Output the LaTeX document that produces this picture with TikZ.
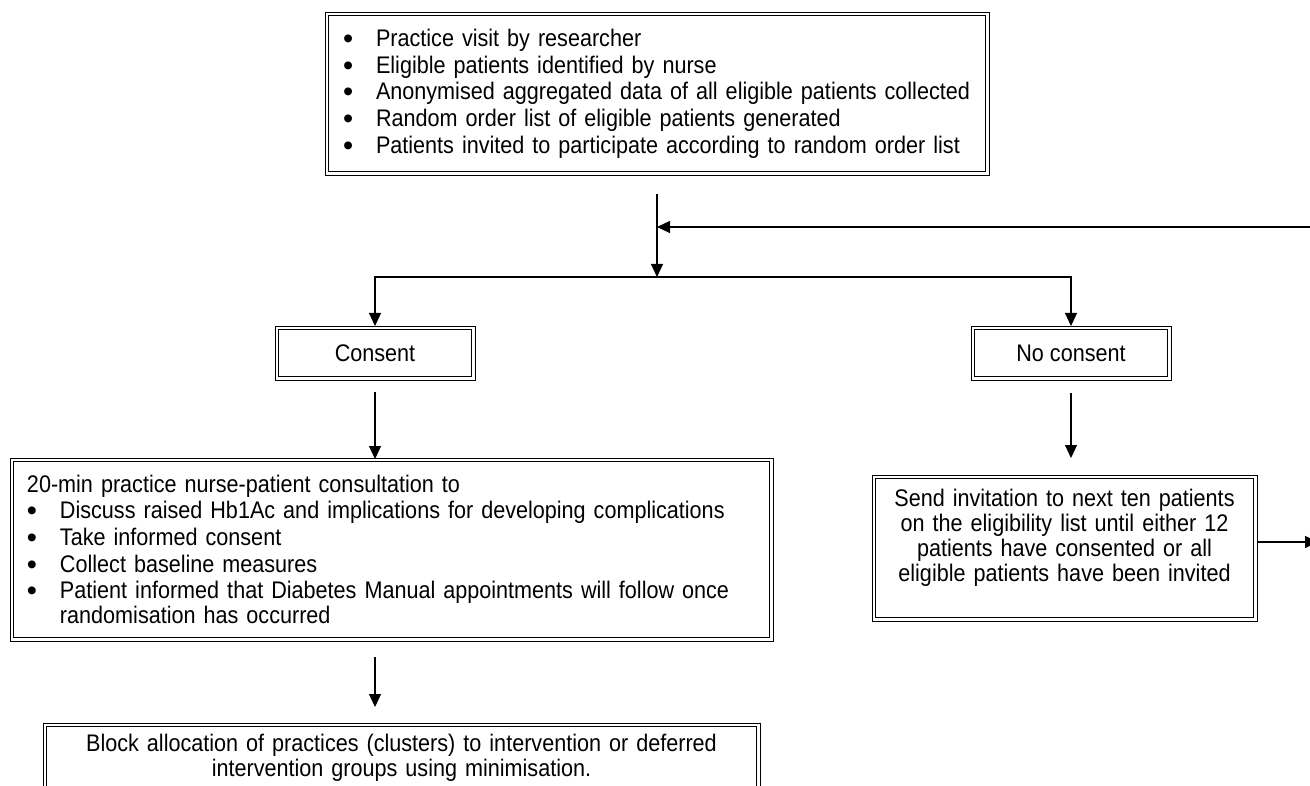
\documentclass[tikz,border=0pt]{standalone}
\usepackage{fontspec}
\setmainfont{Liberation Sans}
\newfontfamily\boxfont[FakeStretch=0.9]{Liberation Sans}
\newfontfamily\bulfont{Liberation Sans}
\usetikzlibrary{arrows.meta}
\newcommand{\bl}{\makebox[33pt][l]{\raisebox{-2pt}{\bulfont\fontsize{29pt}{25pt}\selectfont\textbullet}}}
\begin{document}
\begin{tikzpicture}[x=1pt,y=-1pt,
  box/.style={draw, line width=1.8pt, inner sep=0pt, outer sep=0pt, font=\boxfont\fontsize{24pt}{25pt}\selectfont},
  frame/.style={line width=0.9pt},
  arr/.style={line width=1.2pt, -{Triangle[length=13pt,width=12pt]}},
  ln/.style={line width=1.2pt}]
\useasboundingbox (0,0) rectangle (1310,786);

\node[box, minimum width=657pt, minimum height=156pt, text width=628pt, inner xsep=14.5pt, align=left] (top) at (657,93.5)
{\mbox{\bl Practice visit by researcher}\\[1.7pt]
 \mbox{\bl Eligible patients identified by nurse}\\[1.7pt]
 \mbox{\bl Anonymised aggregated data of all eligible patients collected}\\[1.7pt]
 \mbox{\bl Random order list of eligible patients generated}\\[1.7pt]
 \mbox{\bl Patients invited to participate according to random order list}};

\node[box, minimum width=193pt, minimum height=47pt, align=center] (cons) at (375,353) {Consent};
\node[box, minimum width=193pt, minimum height=47pt, align=center] (nocons) at (1071,353) {No consent};

\node[box, minimum width=756pt, minimum height=176pt, text width=729pt, inner xsep=13.5pt, align=left] (mid) at (391.5,549.5)
{\mbox{20-min practice nurse-patient consultation to}\\[1.7pt]
 \mbox{\bl Discuss raised Hb1Ac and implications for developing complications}\\[1.7pt]
 \mbox{\bl Take informed consent}\\[1.7pt]
 \mbox{\bl Collect baseline measures}\\[1.7pt]
 \mbox{\bl Patient informed that Diabetes Manual appointments will follow once}\\
 \mbox{\hspace*{33pt}randomisation has occurred}};

\node[box, minimum width=378pt, minimum height=139pt, text width=370pt, align=center] (rbox) at (1064.5,548)
{Send invitation to next ten patients\\
 on the eligibility list until either 12\\
 patients have consented or all\\
 eligible patients have been invited\\
 \mbox{}};

\node[box, minimum width=710pt, minimum height=62pt, text width=700pt, align=center] (bot) at (401.5,757.5)
{Block allocation of practices (clusters) to intervention or deferred\\
 intervention groups using minimisation.};

\foreach \n in {top,cons,nocons,mid,rbox,bot}
  \draw[frame] ([xshift=-3.5pt,yshift=3.5pt]\n.north west) rectangle ([xshift=3.5pt,yshift=-3.5pt]\n.south east);

\coordinate (j) at (657,277);
\coordinate (r1) at (1318,542);
\coordinate (r2) at (1318,227);

\draw[arr, shorten <=22.5pt] (top.south) -- (j);
\draw[arr, shorten >=3.5pt] (j) -| (cons.north);
\draw[arr, shorten >=3.5pt] (j) -| (nocons.north);
\draw[arr, shorten <=15.5pt, shorten >=2.5pt] (cons.south) -- (cons.south |- mid.north);
\draw[arr, shorten <=16.5pt, shorten >=20.5pt] (nocons.south) -- (nocons.south |- rbox.north);
\draw[arr, shorten <=19.5pt, shorten >=19.5pt] (cons.south |- mid.south) -- (cons.south |- bot.north);
\draw[arr, shorten <=3.5pt] (rbox.east |- r1) -- (r1);
\draw[ln] (r1) -- (r2);
\draw[arr] (r2) -- (top.south |- r2);
\end{tikzpicture}
\end{document}
